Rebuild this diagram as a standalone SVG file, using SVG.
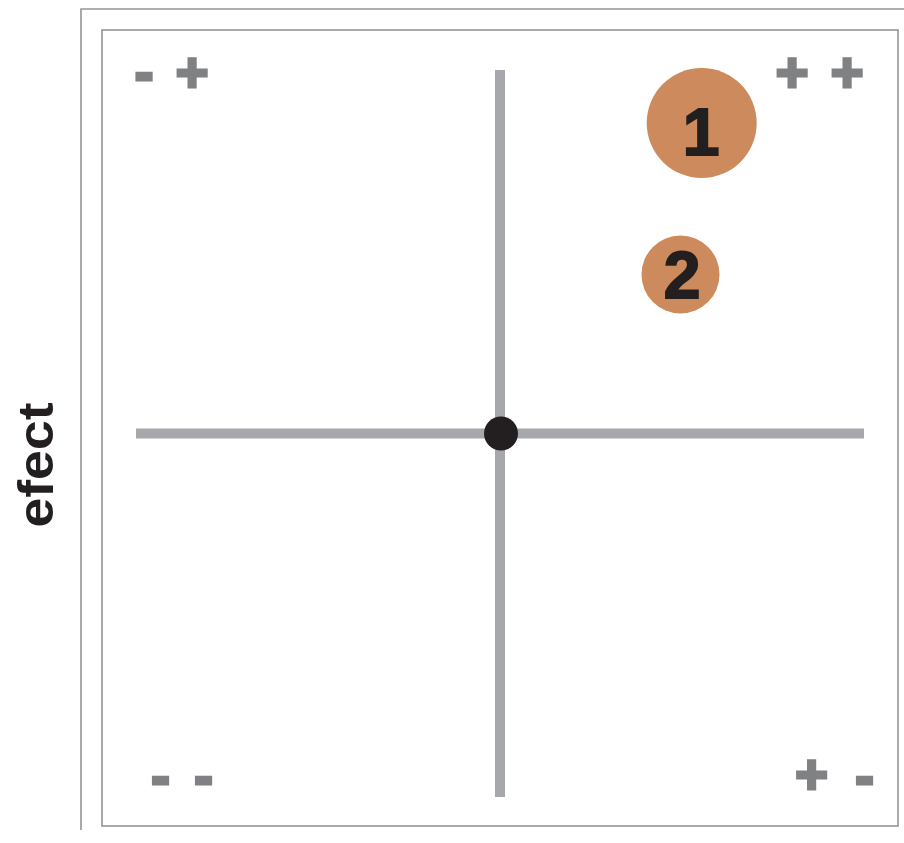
<svg xmlns="http://www.w3.org/2000/svg" width="904" height="843" viewBox="0 0 904 843">
<style>
.frame{fill:none;stroke:#939598;stroke-width:1.6}
.axis{stroke:#a7a8ab;stroke-width:10;fill:none}
.sign{font-family:"Liberation Sans",Arial,sans-serif;font-weight:bold;font-size:56px;fill:#808184;stroke:#808184;stroke-width:3;text-anchor:middle}
.num{font-family:"Liberation Sans",Arial,sans-serif;font-weight:bold;font-size:66px;fill:#231f20;stroke:#231f20;stroke-width:2;text-anchor:middle}
.bubble{fill:#cd8b5d}
.label{font-family:"Liberation Sans",Arial,sans-serif;font-weight:bold;font-size:50px;fill:#231f20;text-anchor:middle}
</style>
<rect width="904" height="843" fill="#ffffff"/>
<g id="frame">
<path class="frame" d="M81,830 V9 H904"/>
<rect class="frame" x="102" y="30" width="796" height="796"/>
</g>
<g id="connectors">
<line class="axis" x1="136" y1="433.5" x2="864" y2="433.5"/>
<line class="axis" x1="500" y1="70" x2="500" y2="797"/>
</g>
<g id="origin">
<circle cx="501" cy="433.5" r="17" fill="#231f20"/>
</g>
<g id="quadrant-minus-plus">
<text class="sign" x="144" y="91">-</text>
<text class="sign" x="192" y="91">+</text>
</g>
<g id="quadrant-plus-plus">
<text class="sign" x="792" y="91">+</text>
<text class="sign" x="847" y="91">+</text>
</g>
<g id="quadrant-minus-minus">
<text class="sign" x="160.5" y="794.5">-</text>
<text class="sign" x="203.5" y="794.5">-</text>
</g>
<g id="quadrant-plus-minus">
<text class="sign" x="811.7" y="793">+</text>
<text class="sign" x="864.5" y="794.5">-</text>
</g>
<g id="node-1">
<circle class="bubble" cx="701.7" cy="123" r="55"/>
<text class="num" x="701" y="154.7">1</text>
</g>
<g id="node-2">
<circle class="bubble" cx="680.5" cy="274.5" r="39"/>
<text class="num" x="682" y="298">2</text>
</g>
<g id="axis-label">
<text class="label" transform="translate(53,465) rotate(-90)" textLength="125" lengthAdjust="spacingAndGlyphs">efect</text>
</g>
</svg>
